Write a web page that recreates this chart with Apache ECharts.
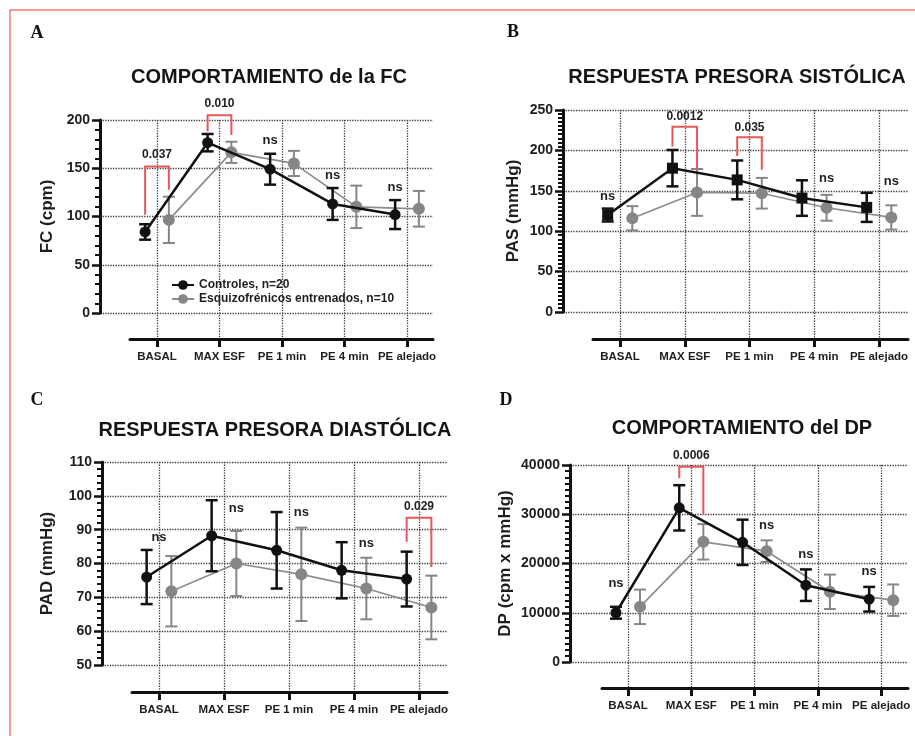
<!DOCTYPE html>
<html><head><meta charset="utf-8">
<script src="https://cdn.jsdelivr.net/npm/echarts@6/dist/echarts.min.js"></script>
<style>html,body{margin:0;padding:0;background:#fff}#c{width:915px;height:736px}</style>
</head><body><div id="c"></div>
<script>
// ---------- DATA ----------
const categories = ['BASAL', 'MAX ESF', 'PE 1 min', 'PE 4 min', 'PE alejado'];
const groupNames = ['Controles, n=20', 'Esquizofrénicos entrenados, n=10'];

// A: heart rate
const fcTicks = [0, 50, 100, 150, 200];
const fcCtrl = [84, 176.5, 149, 113, 102];
const fcCtrlErr = [8, 9, 16, 16.5, 15];
const fcEsq = [96.5, 166.5, 155, 110, 108];
const fcEsqErr = [24, 11, 13, 22, 18.5];
const fcNs = [[2, -1, 179], [3, -1, 143], [4, -1, 130]];          // [category, side, level]
const fcSig = [[0, 151.7, 101.7, 127.6, 163.7], [1, 205, 188, 184.5, 216.6]]; // [category, top, leftEnd, rightEnd, labelLevel]
const fcSigLabels = ['0.037', '0.010'];

// B: systolic
const pasTicks = [0, 50, 100, 150, 200, 250];
const pasCtrl = [120, 178, 163.5, 141, 129.5];
const pasCtrlErr = [8, 22.5, 24, 22, 18];
const pasEsq = [116, 148, 147, 129, 117];
const pasEsqErr = [15, 29, 19, 16, 15];
const pasNs = [[0, -1, 143], [3, 1, 165.6], [4, 1, 161]];
const pasSig = [[1, 229.4, 204.7, 175.9, 241.8], [2, 216.2, 193.2, 175.9, 228.6]];
const pasSigLabels = ['0.0012', '0.035'];

// C: diastolic
const padTicks = [50, 60, 70, 80, 90, 100, 110];
const padCtrl = [76, 88.2, 83.9, 78, 75.4];
const padCtrlErr = [8, 10.5, 11.3, 8.3, 8.1];
const padEsq = [71.8, 80, 76.8, 72.6, 67];
const padEsqErr = [10.4, 9.6, 13.8, 9.1, 9.4];
const padNs = [[0, 0, 87.6], [1, 1, 96.2], [2, 1, 95.2], [3, 1, 86]];
const padSig = [[4, 93.5, 86.4, 79, 96.7]];
const padSigLabels = ['0.029'];

// D: double product
const dpTicks = [0, 10000, 20000, 30000, 40000];
const dpCtrl = [10000, 31300, 24300, 15600, 12750];
const dpCtrlErr = [1200, 4600, 4600, 3200, 2500];
const dpEsq = [11200, 24400, 22500, 14250, 12550];
const dpEsqErr = [3500, 3600, 2200, 3500, 3200];
const dpNs = [[0, -1, 15900], [2, 1, 27800], [3, -1, 21900], [4, -1, 18300]];
const dpSig = [[1, 39660, 37290, 29830, 41830]];
const dpSigLabels = ['0.0006'];

// ---------- LAYOUT ----------
const FONT = '"Liberation Sans", Arial, Helvetica, sans-serif';
const panels = [
  {letter:'A', title:'COMPORTAMIENTO de la FC', yName:'FC (cpm)', ticks:fcTicks,
   ctrl:fcCtrl, ctrlErr:fcCtrlErr, esq:fcEsq, esqErr:fcEsqErr, ns:fcNs, sig:fcSig, sigLabels:fcSigLabels, ctrlSymbol:'circle',
   L:{yLeft:100, xLeft:130, right:433, top:120, yBottom:313, xBottom:339, c0:157, u:62.5, tx:269, ty:77, lx:37, ly:33, nameGap:44, minor:5}},
  {letter:'B', title:'RESPUESTA PRESORA SISTÓLICA', yName:'PAS (mmHg)', ticks:pasTicks,
   ctrl:pasCtrl, ctrlErr:pasCtrlErr, esq:pasEsq, esqErr:pasEsqErr, ns:pasNs, sig:pasSig, sigLabels:pasSigLabels, ctrlSymbol:'rect',
   L:{yLeft:563, xLeft:593, right:908, top:110, yBottom:312, xBottom:339, c0:620, u:64.75, tx:737, ty:77, lx:513, ly:32, nameGap:41, minor:10}},
  {letter:'C', title:'RESPUESTA PRESORA DIASTÓLICA', yName:'PAD (mmHg)', ticks:padTicks,
   ctrl:padCtrl, ctrlErr:padCtrlErr, esq:padEsq, esqErr:padEsqErr, ns:padNs, sig:padSig, sigLabels:padSigLabels, ctrlSymbol:'circle',
   L:{yLeft:102, xLeft:132, right:447, top:462, yBottom:665, xBottom:692, c0:159, u:65, tx:275, ty:430, lx:37, ly:400, nameGap:46, minor:5}},
  {letter:'D', title:'COMPORTAMIENTO del DP', yName:'DP (cpm x mmHg)', ticks:dpTicks,
   ctrl:dpCtrl, ctrlErr:dpCtrlErr, esq:dpEsq, esqErr:dpEsqErr, ns:dpNs, sig:dpSig, sigLabels:dpSigLabels, ctrlSymbol:'circle',
   L:{yLeft:570, xLeft:602, right:908, top:465, yBottom:662, xBottom:688, c0:628, u:63.3, tx:742, ty:428, lx:506, ly:400, nameGap:56, minor:8}}
];

const OFF = 0.19;
const BLACK = '#111111', GREY = '#868686', RED = '#e8585a', TXT = '#1e1e1e';
const grids = [], xAxes = [], yAxes = [], series = [], graphics = [];

graphics.push({type:'polyline', silent:true, shape:{points:[[10,736],[10,10],[915,10]]},
  style:{stroke:'#f07a7a', lineWidth:1.5, fill:null}});

function errSeries(ai, vals, errs, off, color, lw, z) {
  return {type:'custom', xAxisIndex:ai, yAxisIndex:ai, z:z, clip:false, silent:true,
    data: vals.map((v, i) => [i + off, v, errs[i]]),
    renderItem: (params, api) => {
      const x = api.value(0), y = api.value(1), e = api.value(2);
      const t = api.coord([x, y + e]), b = api.coord([x, y - e]);
      const w = 6;
      const st = {stroke: color, lineWidth: lw};
      return {type:'group', children:[
        {type:'line', shape:{x1:t[0], y1:t[1], x2:b[0], y2:b[1]}, style:st},
        {type:'line', shape:{x1:t[0]-w, y1:t[1], x2:t[0]+w, y2:t[1]}, style:st},
        {type:'line', shape:{x1:b[0]-w, y1:b[1], x2:b[0]+w, y2:b[1]}, style:st}
      ]};
    }};
}

panels.forEach((P, k) => {
  const L = P.L;
  const gy = 2 * k, gx = 2 * k + 1;
  grids.push({left:L.yLeft, top:L.top, width:L.right - L.yLeft, height:L.yBottom - L.top});
  grids.push({left:L.xLeft, top:L.top, width:L.right - L.xLeft, height:L.xBottom - L.top});
  xAxes.push({type:'value', gridIndex:gy, show:false, min:(L.yLeft - L.c0) / L.u, max:(L.right - L.c0) / L.u});
  xAxes.push({type:'value', gridIndex:gx, position:'bottom',
    min:(L.xLeft - L.c0) / L.u, max:(L.right - L.c0) / L.u,
    axisLine:{show:true, onZero:false, lineStyle:{color:BLACK, width:3}},
    axisTick:{show:true, customValues:categories.map((c, i) => i), length:8, lineStyle:{color:BLACK, width:3}},
    axisLabel:{show:true, customValues:categories.map((c, i) => i), formatter:v => categories[Math.round(v)],
      margin:12, fontSize:11.5, fontWeight:'bold', color:TXT, fontFamily:FONT},
    splitLine:{show:true, lineStyle:{type:'dotted', color:'#3a3a3a', width:1.3}}});
  const t = P.ticks;
  yAxes.push({type:'value', gridIndex:gy, position:'left', min:t[0], max:t[t.length - 1], interval:t[1] - t[0],
    name:P.yName, nameLocation:'middle', nameGap:L.nameGap,
    nameTextStyle:{fontSize:17, fontWeight:'bold', color:TXT, fontFamily:FONT},
    axisLine:{show:true, onZero:false, lineStyle:{color:BLACK, width:3}},
    axisTick:{show:true, length:8, lineStyle:{color:BLACK, width:2.5}},
    minorTick:{show:true, splitNumber:L.minor, length:5, lineStyle:{color:BLACK, width:2}},
    axisLabel:{margin:10, fontSize:14, fontWeight:'bold', color:TXT, fontFamily:FONT, formatter:v => String(v)},
    splitLine:{show:true, lineStyle:{type:'dotted', color:'#3a3a3a', width:1.3}}});
  yAxes.push({type:'value', gridIndex:gx, show:false, min:0, max:1});

  // grey group
  series.push(errSeries(gy, P.esq, P.esqErr, OFF, GREY, 2, 2));
  series.push({type:'line', name:groupNames[1], xAxisIndex:gy, yAxisIndex:gy, z:3,
    data:P.esq.map((v, i) => [i + OFF, v]), symbol:'circle', symbolSize:12,
    itemStyle:{color:GREY}, lineStyle:{color:'#8c8c8c', width:1.7}});
  // black group
  series.push(errSeries(gy, P.ctrl, P.ctrlErr, -OFF, BLACK, 2.5, 4));
  series.push({type:'line', name:groupNames[0], xAxisIndex:gy, yAxisIndex:gy, z:5,
    data:P.ctrl.map((v, i) => [i - OFF, v]), symbol:P.ctrlSymbol, symbolSize:11,
    itemStyle:{color:BLACK}, lineStyle:{color:BLACK, width:2.5}});
  // significance brackets
  series.push({type:'custom', xAxisIndex:gy, yAxisIndex:gy, z:6, clip:false, silent:true,
    data:P.sig.map(s => [s[0], s[1], s[2], s[3], s[4]]),
    renderItem:(params, api) => {
      const c = api.value(0);
      const a = api.coord([c - OFF, api.value(2)]), b = api.coord([c - OFF, api.value(1)]);
      const d = api.coord([c + OFF, api.value(1)]), e = api.coord([c + OFF, api.value(3)]);
      const lab = api.coord([c, api.value(4)]);
      return {type:'group', children:[
        {type:'polyline', shape:{points:[a, b, d, e]}, style:{stroke:RED, lineWidth:2, fill:null}},
        {type:'text', x:lab[0], y:lab[1], style:{text:P.sigLabels[params.dataIndex], fill:TXT,
          font:'bold 12px ' + FONT, align:'center', verticalAlign:'middle', textAlign:'center', textVerticalAlign:'middle'}}
      ]};
    }});
  // ns labels
  series.push({type:'custom', xAxisIndex:gy, yAxisIndex:gy, z:7, clip:false, silent:true,
    data:P.ns.map(s => [s[0] + s[1] * OFF, s[2]]),
    renderItem:(params, api) => {
      const p = api.coord([api.value(0), api.value(1)]);
      return {type:'text', x:p[0], y:p[1], style:{text:'ns', fill:TXT, font:'bold 13px ' + FONT,
        align:'center', verticalAlign:'middle', textAlign:'center', textVerticalAlign:'middle'}};
    }});

  graphics.push({type:'text', x:L.tx, y:L.ty, silent:true, style:{text:P.title, fill:'#151515',
    font:'bold 20px ' + FONT, align:'center', verticalAlign:'middle', textAlign:'center', textVerticalAlign:'middle'}});
  graphics.push({type:'text', x:L.lx, y:L.ly, silent:true, style:{text:P.letter, fill:'#111',
    font:'bold 18px "Liberation Serif", "DejaVu Serif", serif', align:'center', verticalAlign:'middle', textAlign:'center', textVerticalAlign:'middle'}});
});

const chart = echarts.init(document.getElementById('c'), null, {renderer:'canvas'});
chart.setOption({
  backgroundColor:'#ffffff',
  animation:false,
  textStyle:{fontFamily:FONT},
  grid:grids, xAxis:xAxes, yAxis:yAxes, series:series, graphic:graphics,
  legend:{data:groupNames, orient:'vertical', left:166, top:274, itemWidth:22, itemHeight:12, itemGap:2,
    selectedMode:false, textStyle:{fontSize:12, fontWeight:'bold', color:TXT, fontFamily:FONT}}
});
</script></body></html>
